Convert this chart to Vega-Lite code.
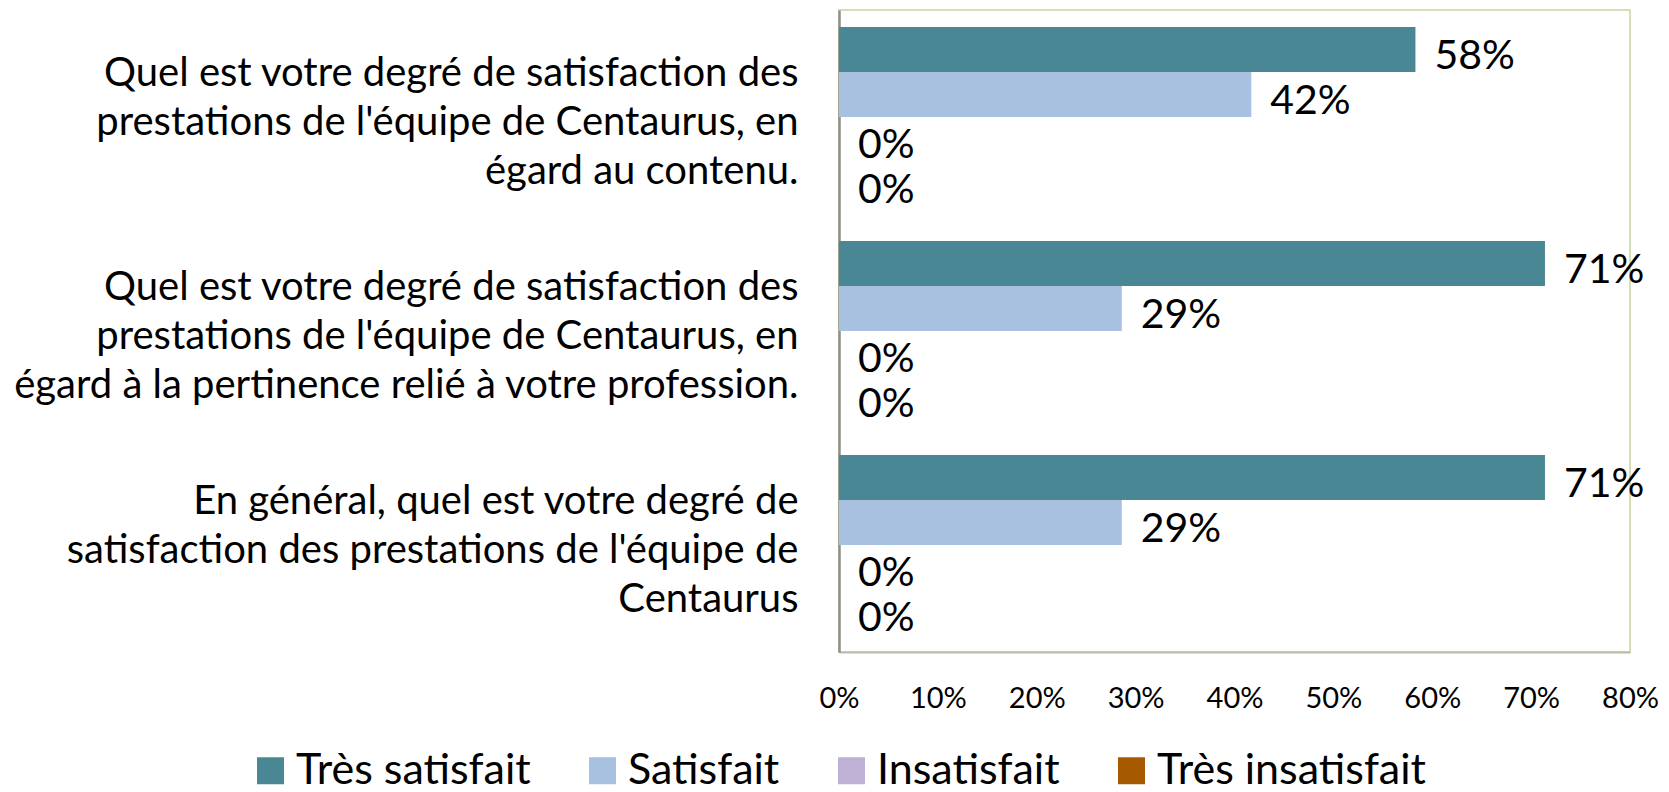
{
  "$schema": "https://vega.github.io/schema/vega-lite/v6.json",
  "autosize": {"type": "none"},
  "padding": {"left": 839, "top": 10, "right": 39, "bottom": 140},
  "width": 791,
  "height": 642,
  "background": "white",
  "config": {
    "font": "Lato",
    "view": {"stroke": "#d4deb7", "strokeWidth": 2}
  },
  "data": {
    "values": [
      {"question": "Quel est votre degré de satisfaction des|prestations de l'équipe de Centaurus, en|égard au contenu.", "niveau": "Très satisfait", "pct": 0.583},
      {"question": "Quel est votre degré de satisfaction des|prestations de l'équipe de Centaurus, en|égard au contenu.", "niveau": "Satisfait", "pct": 0.417},
      {"question": "Quel est votre degré de satisfaction des|prestations de l'équipe de Centaurus, en|égard au contenu.", "niveau": "Insatisfait", "pct": 0},
      {"question": "Quel est votre degré de satisfaction des|prestations de l'équipe de Centaurus, en|égard au contenu.", "niveau": "Très insatisfait", "pct": 0},
      {"question": "Quel est votre degré de satisfaction des|prestations de l'équipe de Centaurus, en|égard à la pertinence relié à votre profession.", "niveau": "Très satisfait", "pct": 0.714},
      {"question": "Quel est votre degré de satisfaction des|prestations de l'équipe de Centaurus, en|égard à la pertinence relié à votre profession.", "niveau": "Satisfait", "pct": 0.286},
      {"question": "Quel est votre degré de satisfaction des|prestations de l'équipe de Centaurus, en|égard à la pertinence relié à votre profession.", "niveau": "Insatisfait", "pct": 0},
      {"question": "Quel est votre degré de satisfaction des|prestations de l'équipe de Centaurus, en|égard à la pertinence relié à votre profession.", "niveau": "Très insatisfait", "pct": 0},
      {"question": "En général, quel est votre degré de|satisfaction des prestations de l'équipe de|Centaurus", "niveau": "Très satisfait", "pct": 0.714},
      {"question": "En général, quel est votre degré de|satisfaction des prestations de l'équipe de|Centaurus", "niveau": "Satisfait", "pct": 0.286},
      {"question": "En général, quel est votre degré de|satisfaction des prestations de l'équipe de|Centaurus", "niveau": "Insatisfait", "pct": 0},
      {"question": "En général, quel est votre degré de|satisfaction des prestations de l'équipe de|Centaurus", "niveau": "Très insatisfait", "pct": 0}
    ]
  },
  "encoding": {
    "y": {
      "field": "question",
      "type": "nominal",
      "sort": null,
      "scale": {"paddingInner": 0.159, "paddingOuter": 0.0795},
      "axis": {
        "title": null,
        "labelExpr": "split(datum.value, '|')",
        "labelFontSize": 40,
        "labelLineHeight": 49,
        "labelAlign": "right",
        "labelBaseline": "middle",
        "labelOffset": -43,
        "labelPadding": 41,
        "labelLimit": 900,
        "labelColor": "#000000",
        "ticks": false,
        "domainColor": "#8f8f87",
        "domainWidth": 2.5
      }
    },
    "yOffset": {
      "field": "niveau",
      "type": "nominal",
      "sort": ["Très satisfait", "Satisfait", "Insatisfait", "Très insatisfait"],
      "scale": {"paddingInner": 0, "paddingOuter": 0}
    },
    "x": {
      "field": "pct",
      "type": "quantitative",
      "scale": {"domain": [0, 0.8], "nice": false},
      "axis": {
        "title": null,
        "format": ".0%",
        "values": [0, 0.1, 0.2, 0.3, 0.4, 0.5, 0.6, 0.7, 0.8],
        "grid": false,
        "ticks": false,
        "labelFlush": false,
        "labelOverlap": false,
        "domainColor": "#b9bea6",
        "domainWidth": 2,
        "labelFontSize": 29,
        "labelPadding": 32,
        "labelColor": "#000000"
      }
    }
  },
  "layer": [
    {
      "mark": {"type": "bar"},
      "encoding": {
        "color": {
          "field": "niveau",
          "type": "nominal",
          "sort": ["Très satisfait", "Satisfait", "Insatisfait", "Très insatisfait"],
          "scale": {
            "domain": ["Très satisfait", "Satisfait", "Insatisfait", "Très insatisfait"],
            "range": ["#4a8794", "#a8c1e0", "#bfb1d5", "#a65a00"]
          },
          "legend": {
            "title": null,
            "orient": "none",
            "direction": "horizontal",
            "legendX": -590,
            "legendY": 739,
            "symbolType": "square",
            "symbolSize": 729,
            "symbolStrokeWidth": 0,
            "symbolOpacity": 1,
            "labelFontSize": 43,
            "labelOffset": 4,
            "columnPadding": 50,
            "labelLimit": 600,
            "labelColor": "#000000"
          }
        }
      }
    },
    {
      "mark": {"type": "text", "align": "left", "baseline": "middle", "dx": 19, "dy": 7, "fontSize": 41, "color": "#000000"},
      "encoding": {
        "text": {"field": "pct", "type": "quantitative", "format": ".0%"}
      }
    }
  ]
}
